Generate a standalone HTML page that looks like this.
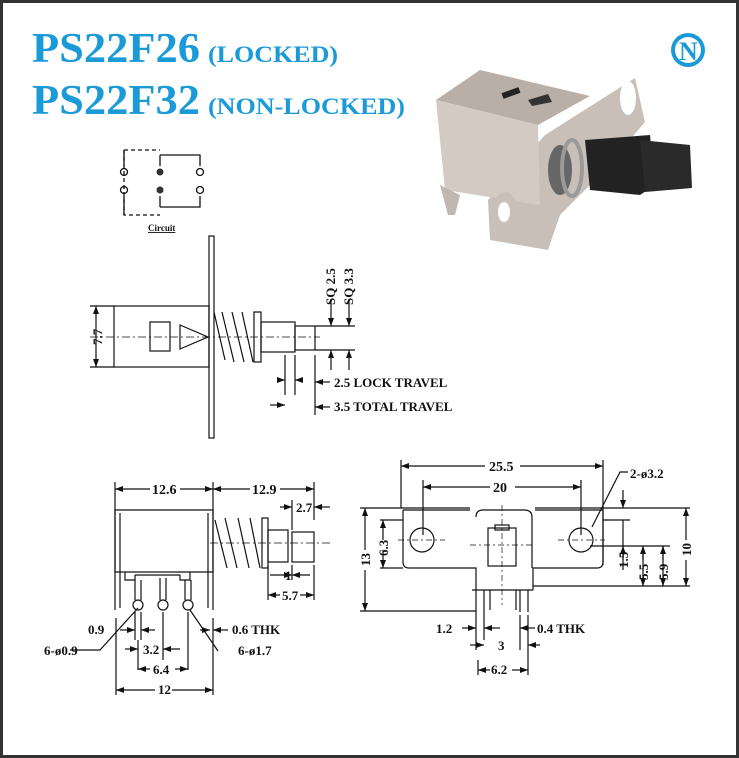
<!DOCTYPE html>
<html><head><meta charset="utf-8"><style>
html,body{margin:0;padding:0;background:#fff}
svg{display:block}
text{font-family:"Liberation Serif",serif;font-weight:bold;fill:#111}
.t{font-size:13px}
</style></head><body>
<svg width="739" height="758" viewBox="0 0 739 758" xmlns="http://www.w3.org/2000/svg">
<defs>
<marker id="a" markerWidth="8" markerHeight="6" refX="8" refY="3" orient="auto" markerUnits="userSpaceOnUse"><path d="M0,0 L8,3 L0,6 Z" fill="#111"/></marker>
</defs>
<rect x="0" y="0" width="739" height="758" fill="#fff"/>
<rect x="1.5" y="1.5" width="736" height="755" fill="none" stroke="#333" stroke-width="3"/>

<!-- Title -->
<text x="32" y="62" textLength="168" lengthAdjust="spacingAndGlyphs" style="font-size:42px;fill:#1b9ad8">PS22F26</text>
<text x="208" y="62" textLength="130" lengthAdjust="spacingAndGlyphs" style="font-size:23px;fill:#1b9ad8">(LOCKED)</text>
<text x="32" y="114" textLength="168" lengthAdjust="spacingAndGlyphs" style="font-size:42px;fill:#1b9ad8">PS22F32</text>
<text x="208" y="114" textLength="197" lengthAdjust="spacingAndGlyphs" style="font-size:23px;fill:#1b9ad8">(NON-LOCKED)</text>
<circle cx="688" cy="50" r="17" fill="#1b9ad8"/>
<circle cx="688" cy="50" r="13" fill="#fff"/>
<text x="679" y="60" style="font-size:26px;fill:#1b9ad8">N</text>

<!-- Photo -->
<g>
<polygon points="545,135 635,78 645,122 600,175 560,215 548,250 490,240 488,200" fill="#c8c0b8"/>
<ellipse cx="628" cy="98" rx="8" ry="17" fill="#fff"/>
<polygon points="436,100 480,70 590,96 538,125" fill="#b9afa6"/>
<polygon points="436,100 538,125 540,205 445,190" fill="#d3cbc3"/>
<polygon points="440,185 448,215 455,215 460,195" fill="#c0b8b0"/>
<rect x="502" y="90" width="18" height="6" fill="#222" transform="rotate(-20 511 93)"/>
<polygon points="528,100 548,94 552,102 532,106" fill="#333"/>
<ellipse cx="505" cy="210" rx="12" ry="18" fill="#c8c0b8"/>
<ellipse cx="504" cy="212" rx="6" ry="10" fill="#fff"/>
<ellipse cx="545" cy="230" rx="6" ry="5" fill="#c8c0b8"/>
<ellipse cx="560" cy="170" rx="12" ry="25" fill="#666"/>
<ellipse cx="572" cy="168" rx="10" ry="28" fill="none" stroke="#9a9a9a" stroke-width="4"/>
<polygon points="585,140 650,135 655,185 640,195 590,190" fill="#222"/>
<polygon points="640,140 690,145 692,188 645,192" fill="#2a2a2a"/>
</g>

<!-- Circuit -->
<g stroke="#111" stroke-width="1.3" fill="none">
<path d="M124,150 H160 M124,150 V215 H160" stroke-dasharray="4,3"/>
<path d="M160,155 H200 V166 M160,207 H200 V196 M160,155 V166 M160,207 V196 M124,150 V166 M124,215 V196"/>
<circle cx="124" cy="172" r="3.5"/><circle cx="200" cy="172" r="3.5"/>
<circle cx="124" cy="190" r="3.5"/><circle cx="200" cy="190" r="3.5"/>
</g>
<circle cx="160" cy="172" r="3.5" fill="#333"/><circle cx="160" cy="190" r="3.5" fill="#333"/>
<text x="148" y="231" style="font-size:9px;text-decoration:underline">Circuit</text>

<!-- Side view -->
<g stroke="#111" stroke-width="1.2" fill="none">
<rect x="209" y="236" width="5" height="202"/>
<rect x="114" y="306" width="95" height="61"/>
<rect x="150" y="322" width="20" height="29"/>
<path d="M180,325 L208,337 L180,349 Z"/>
<path d="M214,312 L225,360 M222,312 L234,362 M232,312 L244,362 M242,312 L253,362"/>
<rect x="254" y="312" width="7" height="50"/>
<rect x="261" y="322" width="34" height="30"/>
<rect x="295" y="326" width="20" height="24"/>
<path d="M90,337 H320" stroke-dasharray="8,3,2,3" stroke-width="0.7"/>
<path d="M90,306 H114 M90,367 H114"/>
<path d="M315,326 H355 M315,350 H355"/>
<path d="M285,355 V395 M295,355 V395 M315,355 V415"/>
</g>
<g stroke="#111" stroke-width="1.2" marker-end="url(#a)">
<line x1="96" y1="337" x2="96" y2="306"/><line x1="96" y1="337" x2="96" y2="367"/>
<line x1="331" y1="300" x2="331" y2="326"/><line x1="349" y1="300" x2="349" y2="326"/>
<line x1="331" y1="370" x2="331" y2="350"/><line x1="349" y1="370" x2="349" y2="350"/>
<line x1="303" y1="380" x2="295" y2="380"/><line x1="270" y1="405" x2="285" y2="405"/>
<line x1="277" y1="380" x2="285" y2="380"/>
<line x1="330" y1="382" x2="315" y2="382"/><line x1="330" y1="407" x2="315" y2="407"/>
</g>
<text class="t" transform="translate(102,345) rotate(-90)">7.7</text>
<text class="t" transform="translate(335,305) rotate(-90)">SQ 2.5</text>
<text class="t" transform="translate(353,305) rotate(-90)">SQ 3.3</text>
<text class="t" x="334" y="387">2.5 LOCK TRAVEL</text>
<text class="t" x="334" y="411">3.5 TOTAL TRAVEL</text>

<!-- Bottom left -->
<g stroke="#111" stroke-width="1.2" fill="none">
<path d="M115,482 V610 M213,482 V610 M314,482 V520"/>
<path d="M115,510 H213 V572 H115 Z"/>
<path d="M120,513 V608 M208,513 V608"/>
<path d="M125,572 V580 H135 V575 M190,572 V580 H180 V575 M135,575 H180"/>
<circle cx="138" cy="605" r="5"/><circle cx="163" cy="605" r="5"/><circle cx="188" cy="605" r="5"/>
<path d="M135,580 V600 M141,580 V600 M160,578 V600 M166,578 V600 M185,580 V600 M191,580 V600"/>
<path d="M215,520 L227,568 M225,518 L237,568 M238,518 L249,568 M250,518 L260,568"/>
<rect x="262" y="518" width="6" height="50"/>
<rect x="268" y="530" width="20" height="32"/>
<rect x="292" y="532" width="22" height="30"/>
<path d="M210,543 H330" stroke-dasharray="8,3,2,3" stroke-width="0.7"/>
<path d="M292,500 V530"/>
<path d="M268,565 V600 M292,565 V580 M314,565 V600"/>
<path d="M135,612 V640 M141,612 V640 M116,618 V695 M213,618 V695 M163,612 V660 M138,640 V670 M188,612 V670"/>
<path d="M70,650 H100 L138,608 M218,651 L190,610"/>
</g>
<g stroke="#111" stroke-width="1.2" marker-end="url(#a)">
<line x1="150" y1="489" x2="115" y2="489"/><line x1="180" y1="489" x2="213" y2="489"/>
<line x1="250" y1="489" x2="213" y2="489"/><line x1="280" y1="489" x2="314" y2="489"/>
<line x1="280" y1="507" x2="292" y2="507"/><line x1="330" y1="507" x2="314" y2="507"/>
<line x1="270" y1="575" x2="292" y2="575"/><line x1="310" y1="575" x2="292" y2="575"/>
<line x1="280" y1="595" x2="268" y2="595"/><line x1="300" y1="595" x2="314" y2="595"/>
<line x1="120" y1="630" x2="135" y2="630"/><line x1="155" y1="630" x2="141" y2="630"/>
<line x1="200" y1="630" x2="210" y2="630"/><line x1="228" y1="630" x2="213" y2="630"/>
<line x1="125" y1="649" x2="138" y2="649"/><line x1="180" y1="649" x2="163" y2="649"/>
<line x1="150" y1="669" x2="138" y2="669"/><line x1="175" y1="669" x2="188" y2="669"/>
<line x1="155" y1="690" x2="116" y2="690"/><line x1="172" y1="690" x2="213" y2="690"/>
</g>
<text class="t" x="152" y="494" style="font-size:14px">12.6</text>
<text class="t" x="252" y="494" style="font-size:14px">12.9</text>
<text class="t" x="296" y="512">2.7</text>
<text class="t" x="285" y="580">1</text>
<text class="t" x="282" y="600">5.7</text>
<text class="t" x="88" y="634">0.9</text>
<text class="t" x="44" y="655">6-ø0.9</text>
<text class="t" x="232" y="634">0.6 THK</text>
<text class="t" x="238" y="655">6-ø1.7</text>
<text class="t" x="143" y="654">3.2</text>
<text class="t" x="153" y="674">6.4</text>
<text class="t" x="158" y="694">12</text>

<!-- Bottom right -->
<g stroke="#111" stroke-width="1.2" fill="none">
<path d="M401,460 V508 M603,460 V565 M423,480 V535 M581,480 V535"/>
<path d="M403,510 H470 M535,510 H603 V562 Q603,568 597,568 H533 V590 M403,510 V562 Q403,568 409,568 H476 V590"/>
<circle cx="422" cy="540" r="12"/><circle cx="581" cy="540" r="12"/>
<path d="M476,517 Q476,510 483,510 H524 Q532,510 532,517 V568"/>
<rect x="488" y="528" width="28" height="38"/>
<rect x="495" y="525" width="14" height="5"/>
<path d="M472,590 H533 M476,590 V615 M484,590 V615 M520,590 V612 M528,590 V612 M490,590 V610 M516,590 V610"/>
<path d="M502,505 V605" stroke-dasharray="6,3,2,3" stroke-width="0.7"/>
<path d="M398,540 H445 M558,540 H605 M470,545 H535" stroke-dasharray="6,3,2,3" stroke-width="0.7"/>
<path d="M360,508 H470 M535,508 H690 M360,611 H476 M380,520 H403 M380,568 H403 M533,586 H690 M603,520 H630 M590,546 H670"/>
<path d="M623,520 V570 M643,546 V586 M663,546 V586"/>
<path d="M592,527 L620,472 H628"/>
<path d="M476,615 V650 M484,615 V640 M520,615 V650 M528,615 V675 M478,660 V675"/>
</g>
<g stroke="#111" stroke-width="1.2" marker-end="url(#a)">
<line x1="485" y1="466" x2="401" y2="466"/><line x1="520" y1="466" x2="603" y2="466"/>
<line x1="490" y1="487" x2="423" y2="487"/><line x1="515" y1="487" x2="581" y2="487"/>
<line x1="365" y1="550" x2="365" y2="508"/><line x1="365" y1="570" x2="365" y2="611"/>
<line x1="383" y1="540" x2="383" y2="520"/><line x1="383" y1="550" x2="383" y2="568"/>
<line x1="686" y1="540" x2="686" y2="508"/><line x1="686" y1="560" x2="686" y2="586"/>
<line x1="623" y1="490" x2="623" y2="508"/>
<line x1="623" y1="560" x2="623" y2="546"/>
<line x1="643" y1="560" x2="643" y2="546"/><line x1="663" y1="560" x2="663" y2="546"/>
<line x1="643" y1="575" x2="643" y2="586"/><line x1="663" y1="575" x2="663" y2="586"/>
<line x1="462" y1="628" x2="476" y2="628"/><line x1="500" y1="628" x2="484" y2="628"/>
<line x1="535" y1="628" x2="520" y2="628"/>
<line x1="470" y1="645" x2="484" y2="645"/><line x1="540" y1="645" x2="528" y2="645"/>
<line x1="490" y1="670" x2="478" y2="670"/><line x1="512" y1="670" x2="528" y2="670"/>
</g>
<text class="t" x="489" y="471" style="font-size:14px">25.5</text>
<text class="t" x="493" y="492" style="font-size:14px">20</text>
<text class="t" x="630" y="478">2-ø3.2</text>
<text class="t" transform="translate(370,566) rotate(-90)">13</text>
<text class="t" transform="translate(388,556) rotate(-90)">6.3</text>
<text class="t" transform="translate(691,556) rotate(-90)">10</text>
<text class="t" transform="translate(628,568) rotate(-90)">1.5</text>
<text class="t" transform="translate(648,580) rotate(-90)">5.5</text>
<text class="t" transform="translate(668,580) rotate(-90)">5.9</text>
<text class="t" x="436" y="633">1.2</text>
<text class="t" x="537" y="633">0.4 THK</text>
<text class="t" x="498" y="650">3</text>
<text class="t" x="491" y="674">6.2</text>
</svg>
</body></html>
